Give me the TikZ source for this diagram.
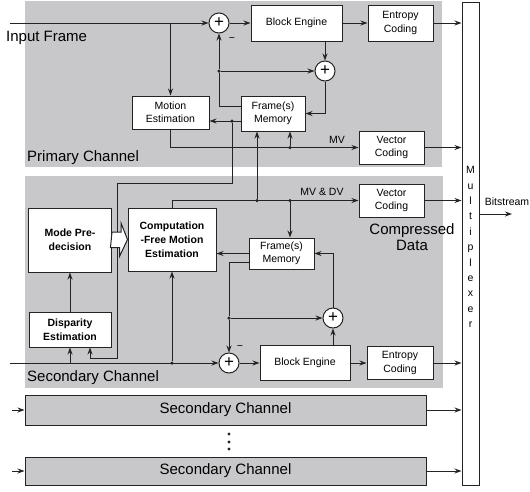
\documentclass[tikz,border=0pt]{standalone}
\usepackage{fontspec}
\setmainfont{Liberation Sans}
\usetikzlibrary{arrows.meta,calc}
\definecolor{chgray}{RGB}{200,200,202}
\definecolor{ink}{RGB}{35,35,35}

\begin{document}
\begin{tikzpicture}[x=1pt,y=-1pt,every text node part/.style={align=center},
  >={Stealth[length=7pt,width=5pt]},
  block/.style={draw=ink, fill=white, line width=1pt, inner sep=0pt, font=\fontsize{10.5}{13.3}\selectfont},
  bblock/.style={block, font=\bfseries\fontsize{10.5}{14}\selectfont},
  sumnode/.style={circle, draw=ink, fill=white, line width=1pt, minimum size=20pt, inner sep=0pt, font=\fontsize{17}{17}\selectfont},
  jdot/.style={circle, fill=ink, inner sep=0pt, minimum size=3.5pt},
  wire/.style={draw=ink, line width=1pt},
  lbl/.style={inner sep=0pt, font=\fontsize{10.5}{13}\selectfont},
  bigtxt/.style={inner sep=0pt, font=\fontsize{15}{15.5}\selectfont},
  bigchan/.style={draw=ink, fill=chgray, line width=1pt, inner sep=0pt, font=\fontsize{15}{15}\selectfont}]
  \useasboundingbox (0,0) rectangle (530,491);

  % channel backgrounds
  \fill[chgray] (25,1) rectangle (442,167);
  \fill[chgray] (25,176) rectangle (443,388);

  % multiplexer
  \node (mux) [draw=ink, fill=white, line width=1pt, minimum width=17pt, minimum height=483pt, inner sep=0pt] at (470.5,243.5) {};
  \node (muxtxt) [lbl, font=\fontsize{10.5}{15.4}\selectfont] at (470.5,247) {M\\u\\l\\t\\i\\p\\l\\e\\x\\e\\r};

  % primary channel
  \node (sum1) [sumnode] at (219,23) {+};
  \node (blk1) [block, minimum width=91pt, minimum height=36pt] at (296.5,23) {Block Engine};
  \node (ent1) [block, minimum width=65pt, minimum height=36pt] at (400.5,23) {Entropy\\Coding};
  \node (sum2) [sumnode] at (325,71) {+};
  \node (me) [block, minimum width=77pt, minimum height=33pt] at (170.5,112.5) {Motion\\Estimation};
  \node (mem1) [block, minimum width=64pt, minimum height=35pt] at (273,113.5) {Frame(s)\\Memory};
  \node (vec1) [block, minimum width=65pt, minimum height=33pt] at (391.5,147.5) {Vector\\Coding};
  \node (j1) [jdot] at (219,71) {};
  \node (j2) [jdot] at (232,121) {};
  \node (j3) [jdot] at (290,147.5) {};

  \coordinate (in1) at (10,23);
  \draw[wire,->] (in1) -- (sum1);
  \draw[wire,->] (me.north |- in1) -- (me.north);
  \draw[wire,->] (sum1) -- (blk1);
  \draw[wire,->] (blk1) -- (ent1);
  \draw[wire,->] (ent1) -- (ent1 -| mux.west);
  \draw[wire,->] (blk1.south -| sum2) -- (sum2);
  \draw[wire] ([yshift=7.5pt]mem1.west) -| (j1);
  \draw[wire,->] (j1) -- (sum1);
  \draw[wire,->] (j1) -- (sum2);
  \draw[wire,->] (sum2) |- (mem1.east);
  \draw[wire,->] ([yshift=-7.5pt]mem1.west) -- (me.east |- j2);
  \draw[wire,->] (me.south) |- (vec1.west);
  \draw[wire,->] (j3) -- (j3 |- mem1.south);
  \draw[wire,->] (vec1) -- (vec1 -| mux.west);
  \node (mv) [lbl] at (337,140) {MV};
  \node (minus1) [lbl] at (232,40) {−};

  % secondary channel
  \node (mp) [bblock, minimum width=83pt, minimum height=64pt] at (70,240) {Mode Pre-\\decision};
  \node (de) [bblock, minimum width=82pt, minimum height=35pt] at (70,329.5) {Disparity\\Estimation};
  \node (cfme) [bblock, minimum width=88pt, minimum height=63pt] at (172,239.5) {Computation\\-Free Motion\\Estimation};
  \node (mem2) [block, minimum width=65pt, minimum height=31pt] at (281.5,253.5) {Frame(s)\\Memory};
  \node (vec2) [block, minimum width=65pt, minimum height=33pt] at (391.5,200.5) {Vector\\Coding};
  \node (sum3) [sumnode] at (229,363) {+};
  \node (sum4) [sumnode] at (333,318) {+};
  \node (blk2) [block, minimum width=90pt, minimum height=35pt] at (305,363) {Block Engine};
  \node (ent2) [block, minimum width=66pt, minimum height=33pt] at (400,363) {Entropy\\Coding};
  \node (j4) [jdot] at (172,363) {};
  \node (j5) [jdot] at (229,318) {};
  \node (j6) [jdot] at (257,200.5) {};
  \node (j7) [jdot] at (290,200.5) {};

  \coordinate (r1) at (117,183);
  \coordinate (r2) at (90,358);
  \draw[wire,->] (j2) |- (r1) |- (r2) -- (r2 |- de.south);

  \coordinate (in2) at (10,363);
  \draw[wire,->] (in2) -- (sum3);
  \draw[wire,->] (in2 -| de.south) -- (de.south);
  \draw[wire,->] (j4) -- (j4 |- cfme.south);
  \draw[wire,->] (de) -- (mp);
  \draw[ink, fill=white, line width=1pt] (mp.east) ++(0,-8) -- ++(9,0) -- ++(0,-9) -- (cfme.west) -- ++(-8,17) -- ++(0,-9) -- ++(-9,0) -- cycle;
  \draw[wire,->] (cfme.north) |- (vec2.west);
  \draw[wire,->] (j6) -- (j6 |- mem1.south);
  \draw[wire,->] (j7) -- (j7 |- mem2.north);
  \draw[wire,->] (vec2) -- (vec2 -| mux.west);
  \draw[wire,->] (mem2.west) -- (mem2.west -| cfme.east);
  \draw[wire] ([yshift=-8.5pt]mem2.west) -| (j5);
  \draw[wire,->] (j5) -- (sum3);
  \draw[wire,->] (j5) -- (sum4);
  \draw[wire,->] (sum4) |- (mem2.east);
  \draw[wire,->] (blk2.north -| sum4) -- (sum4);
  \draw[wire,->] (sum3) -- (blk2);
  \draw[wire,->] (blk2) -- (ent2);
  \draw[wire,->] (ent2) -- (ent2 -| mux.west);
  \node (mvdv) [lbl] at (322,192) {MV \& DV};
  \node (minus2) [lbl] at (240,348) {−};
  \node (cdata) [bigtxt] at (412,237) {Compressed\\Data};

  % labels
  \node (inlbl) [bigtxt, anchor=west] at (6,38) {Input Frame};
  \node (plbl) [bigtxt, anchor=west] at (27,158) {Primary Channel};
  \node (slbl) [bigtxt, anchor=west] at (27,378) {Secondary Channel};

  % further secondary channels
  \node (sc1) [bigchan, minimum width=401pt, minimum height=30pt] at (225.5,410) {Secondary Channel};
  \node (sc2) [bigchan, minimum width=401pt, minimum height=28pt] at (225.5,471) {Secondary Channel};
  \coordinate (in3) at (12,410);
  \coordinate (in4) at (12,471);
  \draw[wire,->] (in3) -- (sc1);
  \draw[wire,->] (in4) -- (sc2);
  \draw[wire,->] (sc1) -- (sc1 -| mux.west);
  \draw[wire,->] (sc2) -- (sc2 -| mux.west);
  \foreach \y in {434,442,449}
    \fill[ink] (229,\y) circle (1.6pt);

  % output
  \node (bits) [lbl] at (507,202) {Bitstream};
  \coordinate (out) at (512,214);
  \draw[wire,->] (mux.east |- out) -- (out);
\end{tikzpicture}
\end{document}
